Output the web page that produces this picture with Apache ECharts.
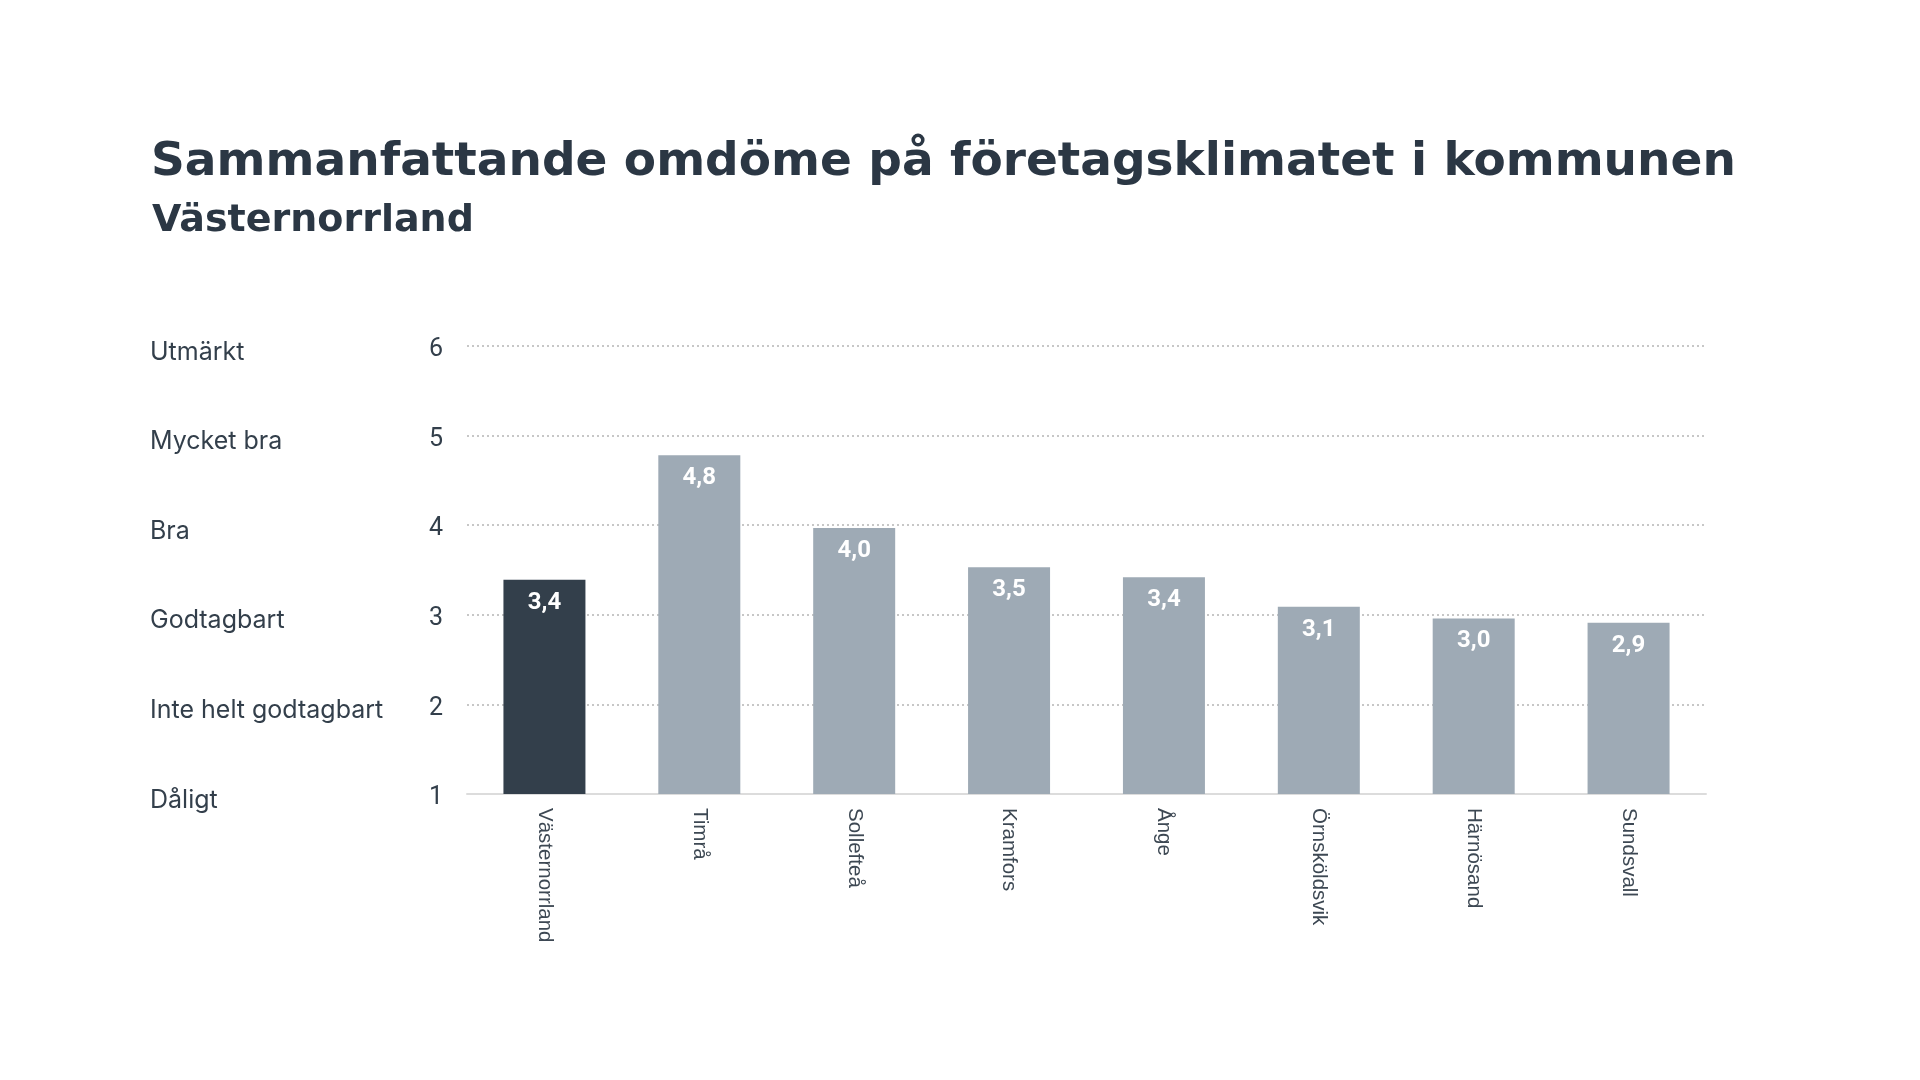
<!DOCTYPE html>
<html>
<head>
<meta charset="utf-8">
<script src="https://cdn.jsdelivr.net/npm/echarts@6/dist/echarts.min.js"></script>
<style>
html,body{margin:0;padding:0;background:#fff;}
#chart{width:1920px;height:1080px;}
</style>
</head>
<body>
<div id="chart"></div>
<script>
const titleText = 'Sammanfattande omdöme på företagsklimatet i kommunen';
const subtitleText = 'Västernorrland';
const categories = ['Västernorrland','Timrå','Sollefteå','Kramfors','Ånge','Örnsköldsvik','Härnösand','Sundsvall'];
const values = [3.39, 4.78, 3.97, 3.53, 3.42, 3.09, 2.96, 2.91];
const ratingLabels = ['Dåligt','Inte helt godtagbart','Godtagbart','Bra','Mycket bra','Utmärkt'];
const yTicks = [1,2,3,4,5,6];
const highlightIndex = 0;

const dark = '#333f4b';
const light = '#9eaab5';

const chart = echarts.init(document.getElementById('chart'));
chart.setOption({
  backgroundColor: '#ffffff',
  animation: false,
  title: [
    {text: titleText, left: 146, top: 134,
     textStyle: {fontFamily: 'DejaVu Sans', fontWeight: 'bold', fontSize: 47, color: '#2b3744'}},
    {text: subtitleText, left: 147, top: 197,
     textStyle: {fontFamily: 'DejaVu Sans', fontWeight: 'bold', fontSize: 38, color: '#2b3744'}}
  ],
  grid: {left: 467, right: 214, top: 346, bottom: 286, containLabel: false},
  xAxis: {
    type: 'category',
    data: categories,
    axisLine: {show: true, lineStyle: {color: '#dcdcdc', width: 2}},
    axisTick: {show: false},
    axisLabel: {rotate: -90, margin: 14, fontFamily: 'Liberation Sans', fontSize: 20.5, color: '#3d4853'}
  },
  yAxis: [
    {
      type: 'value', min: yTicks[0], max: yTicks[yTicks.length-1], interval: 1, startValue: 1,
      axisLine: {show: false}, axisTick: {show: false},
      splitLine: {show: true, lineStyle: {color: '#b5b5b5', type: [2, 3], width: 1.5}},
      axisLabel: {margin: 24, color: '#333f4b',
        formatter: v => '{n|' + v + '}',
        rich: {n: {fontFamily: 'Roboto', fontSize: 25, color: '#333f4b', padding: [8, 0, 0, 0]}}}
    },
    {
      type: 'value', min: yTicks[0], max: yTicks[yTicks.length-1], interval: 1, position: 'left',
      axisLine: {show: false}, axisTick: {show: false}, splitLine: {show: false},
      axisLabel: {margin: 317, align: 'left', color: '#333f4b',
        formatter: v => '{t|' + (ratingLabels[v - 1] || '') + '}',
        rich: {t: {fontFamily: 'Inter', fontSize: 25, color: '#333f4b', padding: [12, 0, 0, 0]}}}
    }
  ],
  series: [{
    type: 'bar',
    yAxisIndex: 0,
    barWidth: 82,
    clip: true,
    data: values.map((v, i) => ({value: v, itemStyle: {color: i === highlightIndex ? dark : light}})),
    label: {
      show: true, position: 'insideTop', distance: 11,
      fontFamily: 'Roboto', fontWeight: 700, fontSize: 24, color: '#ffffff',
      formatter: p => p.value.toFixed(1).replace('.', ',')
    }
  }]
});
</script>
</body>
</html>
